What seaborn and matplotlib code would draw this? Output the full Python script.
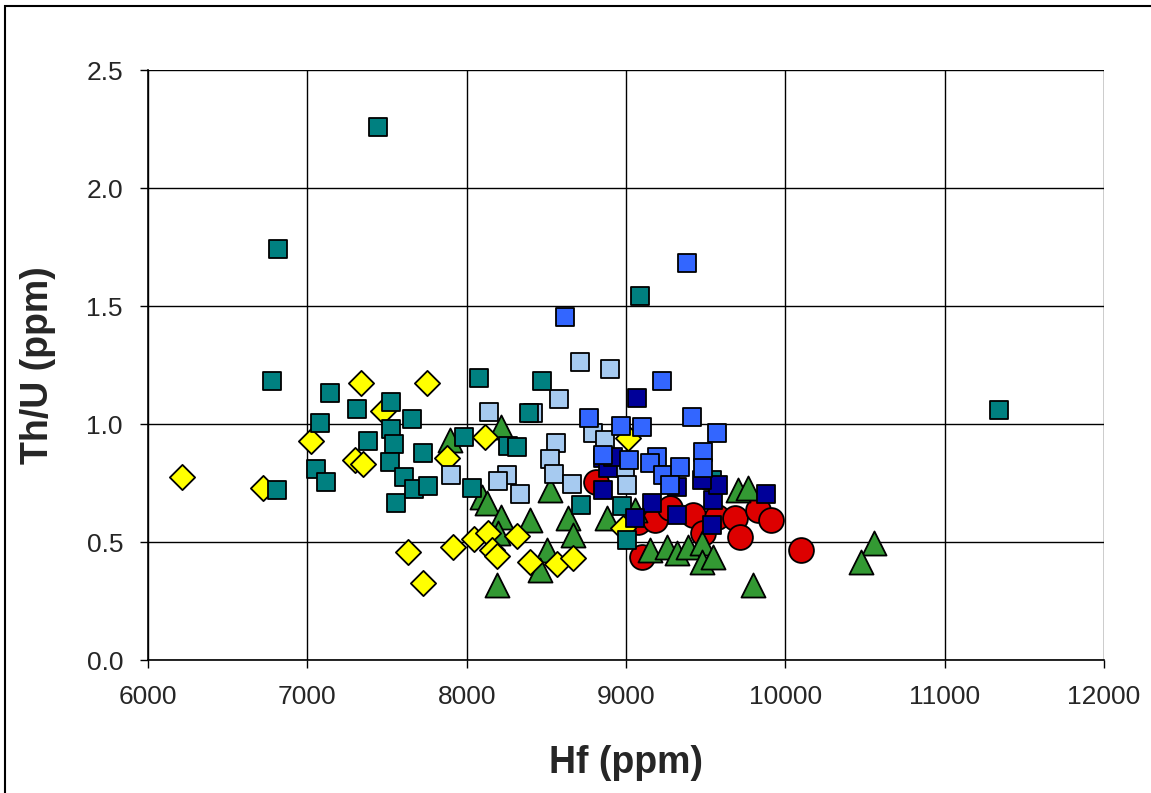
import matplotlib
matplotlib.use("Agg")
import matplotlib.pyplot as plt
import seaborn as sns
import pandas as pd
from matplotlib.patches import Rectangle

# ---- data (Hf ppm, Th/U) ----
red_hf = [8810, 9101, 9076, 9182, 9277, 9421, 9572, 9685, 9716, 9829, 9911, 10099, 9484]
red_thu = [0.754, 0.436, 0.585, 0.593, 0.644, 0.614, 0.606, 0.602, 0.521, 0.636, 0.593, 0.466, 0.538]

green_hf = [7896, 8216, 8097, 8128, 8524, 8216, 8398, 8637, 8668, 8882, 8505, 8461, 8191, 8197,
            9057, 9151, 9258, 9321, 9390, 9478, 9478, 9547, 9704, 9767, 9798, 10558, 10476]
green_thu = [0.932, 0.987, 0.690, 0.665, 0.720, 0.606, 0.593, 0.602, 0.530, 0.602, 0.466, 0.381, 0.318, 0.538,
             0.636, 0.466, 0.479, 0.453, 0.479, 0.496, 0.415, 0.436, 0.720, 0.729, 0.318, 0.496, 0.415]

yellow_hf = [6213, 6722, 7023, 7300, 7350, 7337, 7475, 7751, 7877, 8115, 7632, 7915, 7726, 8046,
             8134, 8159, 8191, 8316, 8398, 8567, 8668, 9013, 8982]
yellow_thu = [0.775, 0.729, 0.928, 0.847, 0.831, 1.174, 1.055, 1.174, 0.856, 0.945, 0.458, 0.479, 0.326, 0.513,
              0.538, 0.466, 0.441, 0.525, 0.415, 0.407, 0.432, 0.941, 0.559]

lightblue_hf = [8712, 8900, 8580, 8141, 8417, 8561, 8520, 8793, 8869, 8548, 8253, 8197, 8335, 8661,
                7902, 8994, 9007]
lightblue_thu = [1.263, 1.233, 1.106, 1.051, 1.047, 0.919, 0.852, 0.962, 0.932, 0.788, 0.784, 0.758, 0.703, 0.746,
                 0.784, 0.814, 0.742]

teal_hf = [7444, 6816, 6778, 6810, 7142, 7312, 7525, 7080, 7381, 7525, 7544, 7055, 7117, 7519, 7557,
           7657, 7726, 7607, 7670, 7758, 8078, 8473, 7984, 8392, 8260, 8316, 8034, 8718, 8975, 9007,
           9088, 9540, 11342]
teal_thu = [2.258, 1.742, 1.182, 0.720, 1.131, 1.064, 1.093, 1.004, 0.928, 0.979, 0.915, 0.809, 0.754, 0.839, 0.665,
            1.021, 0.877, 0.775, 0.725, 0.737, 1.195, 1.182, 0.945, 1.047, 0.907, 0.903, 0.729, 0.657, 0.653, 0.508,
            1.542, 0.763, 1.059]

navy_hf = [9069, 8856, 8887, 8856, 8919, 9164, 9057, 9321, 9540, 9546, 9578, 9477, 9321, 9879]
navy_thu = [1.110, 0.856, 0.814, 0.720, 0.860, 0.665, 0.602, 0.614, 0.572, 0.678, 0.742, 0.763, 0.733, 0.703]

blue_hf = [9384, 8618, 9226, 8768, 8969, 9101, 9415, 9572, 8856, 9019, 9195, 9151, 9233, 9339, 9277,
           9484, 9484]
blue_thu = [1.682, 1.453, 1.182, 1.025, 0.992, 0.987, 1.030, 0.962, 0.869, 0.847, 0.860, 0.835, 0.784, 0.818, 0.742,
            0.881, 0.814]

x_ticks = [6000, 7000, 8000, 9000, 10000, 11000, 12000]
y_ticks = [0.0, 0.5, 1.0, 1.5, 2.0, 2.5]
x_label = "Hf (ppm)"
y_label = "Th/U (ppm)"

sns.set_style("white")
plt.rcParams["font.family"] = ["Liberation Sans", "DejaVu Sans"]

fig = plt.figure(figsize=(11.51, 7.93), dpi=100)
ax = fig.add_axes([148 / 1151, 1 - 660 / 793, (1104 - 148) / 1151, (660 - 70) / 793])

series = [
    (red_hf, red_thu, "#DD0000", "o", 320),
    (green_hf, green_thu, "#339933", "^", 300),
    (yellow_hf, yellow_thu, "#FFFF00", "D", 165),
    (lightblue_hf, lightblue_thu, "#A6CAF0", "s", 155),
    (teal_hf, teal_thu, "#008080", "s", 155),
    (navy_hf, navy_thu, "#000099", "s", 155),
    (blue_hf, blue_thu, "#3366FF", "s", 155),
]
for i, (hx, hy, col, mk, sz) in enumerate(series):
    df = pd.DataFrame({"Hf": hx, "ThU": hy})
    sns.scatterplot(data=df, x="Hf", y="ThU", ax=ax, color=col, marker=mk, s=sz,
                    edgecolor="black", linewidth=1.3, zorder=3 + i, legend=False)

ax.set_xlim(6000, 12000)
ax.set_ylim(0, 2.5)
ax.set_xticks(x_ticks)
ax.set_yticks(y_ticks)
ax.set_xticklabels([str(v) for v in x_ticks])
ax.set_yticklabels([f"{v:.1f}" for v in y_ticks])
ax.grid(True, color="black", linewidth=1.0)
ax.set_axisbelow(True)
for sp in ["top", "right"]:
    ax.spines[sp].set_visible(False)
for sp in ["left", "bottom"]:
    ax.spines[sp].set_color("black")
    ax.spines[sp].set_linewidth(1.2)
ax.tick_params(axis="both", direction="out", length=6, width=1, color="black",
               labelsize=19, pad=12, left=True, bottom=True)
ax.set_xlabel(x_label, fontsize=27, fontweight="bold", labelpad=26)
ax.set_ylabel(y_label, fontsize=27, fontweight="bold", labelpad=22)

fig.patches.append(Rectangle((5 / 1151, -0.05), 1.2, 1 - 6 / 793 + 0.05, transform=fig.transFigure,
                             fill=False, edgecolor="black", linewidth=1.5))

fig.savefig("out.png", dpi=100)
